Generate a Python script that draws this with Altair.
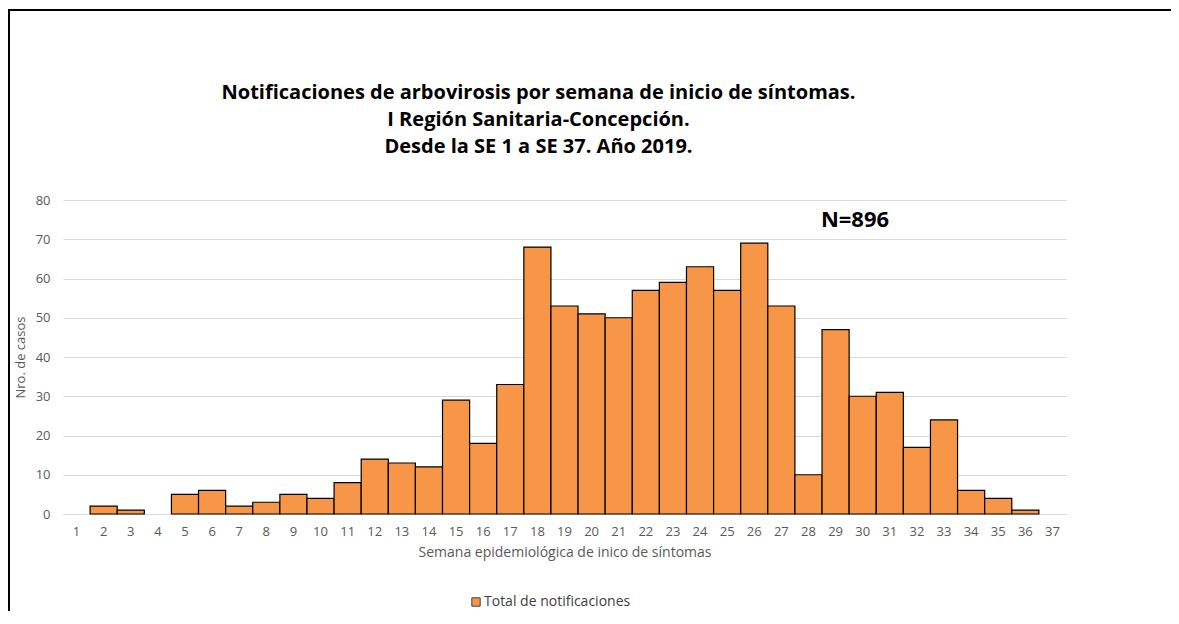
import altair as alt
import pandas as pd

weeks = [str(i) for i in range(1, 38)]
cases = [0, 2, 1, 0, 5, 6, 2, 3, 5, 4, 8, 14, 13, 12, 29, 18, 33, 68, 53, 51,
         50, 57, 59, 63, 57, 69, 53, 10, 47, 30, 31, 17, 24, 6, 4, 1, 0]
series_name = "Total de notificaciones"
title_lines = [
    "Notificaciones de arbovirosis por semana de inicio de síntomas.",
    "I Región Sanitaria-Concepción.",
    "Desde la SE 1 a SE 37. Año 2019.",
]
x_title = "Semana epidemiológica de inico de síntomas"
y_title = "Nro. de casos"
n_label = "N=896"
y_ticks = [0, 10, 20, 30, 40, 50, 60, 70, 80]

df = pd.DataFrame({"semana": weeks, "casos": cases, "serie": series_name})

W, H = 1003, 314
FONT = "Open Sans"

bars = alt.Chart(df).transform_filter("datum.casos > 0").mark_bar(
    stroke="black", strokeWidth=1.2, opacity=1
).encode(
    x=alt.X("semana:N", sort=weeks,
            scale=alt.Scale(domain=weeks, paddingInner=0, paddingOuter=0),
            axis=alt.Axis(title=x_title, labelAngle=0, ticks=False, domain=True,
                          domainColor="#d9d9d9", domainWidth=1, grid=False,
                          labelPadding=11, titlePadding=7, titleFontSize=14)),
    y=alt.Y("casos:Q", scale=alt.Scale(domain=[0, 80], nice=False),
            axis=alt.Axis(title=y_title, values=y_ticks, grid=True, gridColor="#d9d9d9",
                          domain=False, ticks=False, labelPadding=13, titlePadding=8)),
    color=alt.Color("serie:N", scale=alt.Scale(domain=[series_name], range=["#F79646"]),
                    legend=alt.Legend(title=None, orient="none", legendX=406, legendY=395,
                                      symbolType="square", symbolSize=70,
                                      symbolStrokeColor="#404040", symbolStrokeWidth=1,
                                      labelFont=FONT, labelFontSize=14, labelColor="#404040",
                                      labelOffset=1)),
)

ntext = alt.Chart(alt.Data(values=[{"t": n_label}])).mark_text(
    font=FONT, fontSize=22, fontWeight="bold", color="black", align="center", baseline="middle"
).encode(text="t:N", x=alt.value(792), y=alt.value(20))

frame_data = alt.Data(values=[{"k": 1}])
frame_left = alt.Chart(frame_data).mark_rule(color="black", strokeWidth=2).encode(
    x=alt.value(-54), y=alt.value(-191), y2=alt.value(413))
frame_top = alt.Chart(frame_data).mark_rule(color="black", strokeWidth=2).encode(
    x=alt.value(-55), x2=alt.value(1120), y=alt.value(-190))

chart = alt.layer(bars, ntext, frame_left, frame_top).properties(
    width=W, height=H,
    title=alt.TitleParams(text=title_lines, font=FONT, fontSize=20, fontWeight="bold",
                          color="black", lineHeight=27, anchor="middle", dx=-26, offset=-149),
    autosize=alt.AutoSizeParams(type="none"),
    padding={"left": 55, "top": 192, "right": 105, "bottom": 97},
).configure_view(stroke=None).configure_axis(
    labelFont=FONT, labelFontSize=13, labelColor="#595959",
    titleFont=FONT, titleFontSize=13, titleColor="#595959", titleFontWeight="normal",
)

chart.save("out.html", embed_options={"renderer": "svg", "actions": False})
